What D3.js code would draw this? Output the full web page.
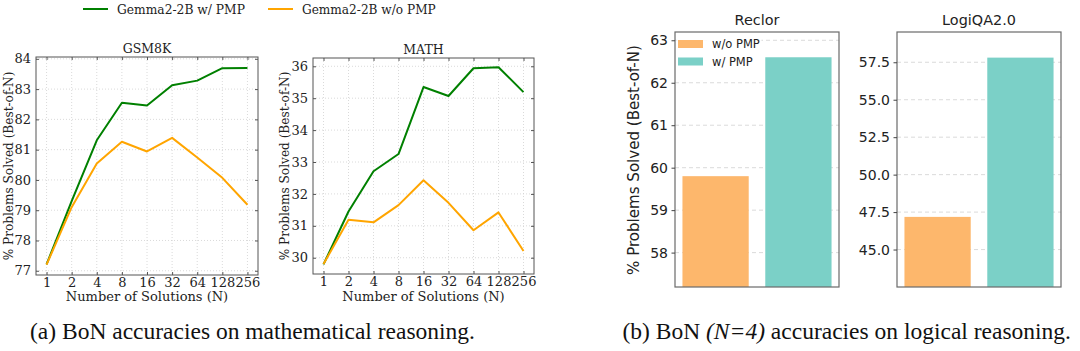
<!DOCTYPE html>
<html><head><meta charset="utf-8">
<script src="https://cdn.jsdelivr.net/npm/d3@7"></script>
<style>body{margin:0;background:#fff}svg{display:block}</style>
</head><body>
<svg id="c" width="1080" height="351"></svg>
<script>
// ---- data ----
const nLabels = ["1","2","4","8","16","32","64","128","256"];
const gsmWith    = [77.21,79.30,81.31,82.55,82.46,83.13,83.28,83.69,83.70];
const gsmWithout = [77.20,79.10,80.54,81.26,80.94,81.39,80.74,80.07,79.18];
const mathWith    = [29.79,31.45,32.71,33.25,35.35,35.07,35.94,35.97,35.19];
const mathWithout = [29.80,31.19,31.11,31.65,32.43,31.72,30.86,31.42,30.21];
const gsmTicks  = [77,78,79,80,81,82,83,84];
const mathTicks = [30,31,32,33,34,35,36];
const lineSeries = ["Gemma2-2B w/ PMP","Gemma2-2B w/o PMP"];
const barCats = ["w/o PMP","w/ PMP"];
const reclorVals = [59.80,62.60];
const logiqaVals = [47.18,57.81];
const reclorTicks = [58,59,60,61,62,63];
const logiqaTicks = [45.0,47.5,50.0,52.5,55.0,57.5];

const svg = d3.select("#c");
const SERIF = "'DejaVu Serif', serif";
const SANS = "'DejaVu Sans', sans-serif";
const lineColors = ["#008000","#FFA500"];
const barColors = ["#FDB76C","#7BD0C7"];

function fit(sel, target){
  const l = sel.node().getComputedTextLength();
  const fs = +sel.attr("font-size");
  sel.attr("font-size", fs*target/l);
  return sel;
}

function linePanel(o){
  const g = svg.append("g");
  const x = d3.scalePoint().domain(nLabels).range([o.x0,o.x1]).padding(0.42);
  const y = d3.scaleLinear().domain(o.dom).range([o.y1,o.y0]);
  g.selectAll(".gy").data(o.ticks).join("line")
    .attr("x1",o.x0).attr("x2",o.x1).attr("y1",d=>y(d)).attr("y2",d=>y(d))
    .attr("stroke","#d0d0d0").attr("stroke-width",0.8).attr("stroke-dasharray","1,2");
  g.selectAll(".gx").data(nLabels).join("line")
    .attr("x1",d=>x(d)).attr("x2",d=>x(d)).attr("y1",o.y0).attr("y2",o.y1)
    .attr("stroke","#d0d0d0").attr("stroke-width",0.8).attr("stroke-dasharray","1,2");
  const ln = d3.line().x((d,i)=>x(nLabels[i])).y(d=>y(d));
  [o.a,o.b].forEach((s,k)=>{
    g.append("path").attr("d",ln(s)).attr("fill","none")
      .attr("stroke",lineColors[k]).attr("stroke-width",2).attr("stroke-linejoin","round");
  });
  g.append("rect").attr("x",o.x0).attr("y",o.y0).attr("width",o.x1-o.x0).attr("height",o.y1-o.y0)
    .attr("fill","none").attr("stroke","#555").attr("stroke-width",1);
  const ax = g.append("g").attr("transform",`translate(0,${o.y1})`)
    .call(d3.axisBottom(x).tickSize(-3).tickPadding(0));
  const axT = g.append("g").attr("transform",`translate(0,${o.y0})`)
    .call(d3.axisTop(x).tickSize(-3).tickFormat(""));
  const ay = g.append("g").attr("transform",`translate(${o.x0},0)`)
    .call(d3.axisLeft(y).tickValues(o.ticks).tickSize(-3).tickPadding(5).tickFormat(d3.format("d")));
  const ayR = g.append("g").attr("transform",`translate(${o.x1},0)`)
    .call(d3.axisRight(y).tickValues(o.ticks).tickSize(-3).tickFormat(""));
  [ax,axT,ay,ayR].forEach(a=>{
    a.select(".domain").remove();
    a.selectAll("line").attr("stroke","#555");
    a.selectAll("text").attr("font-family",SERIF).attr("font-size",13).attr("fill","#222");
  });
  ax.selectAll("text").attr("y",12).attr("dy",null);
  g.append("text").attr("x",(o.x0+o.x1)/2).attr("y",o.y0-4).attr("text-anchor","middle")
    .attr("font-family",SERIF).attr("font-size",12.5).attr("fill","#222").text(o.title);
  g.append("text").attr("x",(o.x0+o.x1)/2).attr("y",301).attr("text-anchor","middle")
    .attr("font-family",SERIF).attr("font-size",13).attr("fill","#222").text("Number of Solutions (N)");
  fit(g.append("text").attr("transform",`translate(${o.yl},${(o.y0+o.y1)/2}) rotate(-90)`)
    .attr("text-anchor","middle").attr("font-family",SERIF).attr("font-size",13).attr("fill","#222")
    .text("% Problems Solved (Best-of-N)"), 189);
}

linePanel({x0:36,x1:258,y0:57,y1:275,dom:[76.86,84.06],ticks:gsmTicks,title:"GSM8K",a:gsmWith,b:gsmWithout,yl:12.5});
linePanel({x0:313,x1:534,y0:58,y1:274,dom:[29.49,36.26],ticks:mathTicks,title:"MATH",a:mathWith,b:mathWithout,yl:288.5});

// top legend
const legX = [83,268];
const legW = [128,134];
lineSeries.forEach((s,i)=>{
  svg.append("line").attr("x1",legX[i]).attr("x2",legX[i]+25).attr("y1",9).attr("y2",9)
    .attr("stroke",lineColors[i]).attr("stroke-width",2);
  fit(svg.append("text").attr("x",legX[i]+34).attr("y",14).attr("font-family",SERIF)
    .attr("font-size",14).attr("fill","#222").text(s), legW[i]);
});

function barPanel(o){
  const g = svg.append("g");
  const x = d3.scaleLinear().domain([-0.49,1.49]).range([o.x0,o.x1]);
  const y = d3.scaleLinear().domain(o.dom).range([o.y1,o.y0]);
  g.selectAll(".gy").data(o.ticks).join("line")
    .attr("x1",o.x0).attr("x2",o.x1).attr("y1",d=>y(d)).attr("y2",d=>y(d))
    .attr("stroke","#d6d6d6").attr("stroke-width",0.9).attr("stroke-dasharray","4,3");
  g.selectAll(".bar").data(o.vals).join("rect")
    .attr("x",(d,i)=>x(i-0.4)).attr("width",(d,i)=>x(i+0.4)-x(i-0.4))
    .attr("y",d=>y(d)).attr("height",d=>o.y1-y(d))
    .attr("fill",(d,i)=>barColors[i]);
  g.append("rect").attr("x",o.x0).attr("y",o.y0).attr("width",o.x1-o.x0).attr("height",o.y1-o.y0)
    .attr("fill","none").attr("stroke","#6a6a6a").attr("stroke-width",1.2);
  const ay = g.append("g").attr("transform",`translate(${o.x0},0)`)
    .call(d3.axisLeft(y).tickValues(o.ticks).tickSize(3.5).tickPadding(3.5).tickFormat(d3.format(o.fmt)));
  ay.select(".domain").remove();
  ay.selectAll("line").attr("stroke","#444");
  ay.selectAll("text").attr("font-family",SANS).attr("font-size",14).attr("fill","#222");
  g.append("text").attr("x",(o.x0+o.x1)/2).attr("y",o.y0-7).attr("text-anchor","middle")
    .attr("font-family",SANS).attr("font-size",14.4).attr("fill","#222").text(o.title);
}

barPanel({x0:675,x1:839,y0:32,y1:287,dom:[57.19,63.195],ticks:reclorTicks,vals:reclorVals,title:"Reclor",fmt:"d"});
barPanel({x0:897,x1:1061,y0:32,y1:287,dom:[42.50,59.52],ticks:logiqaTicks,vals:logiqaVals,title:"LogiQA2.0",fmt:".1f"});

fit(svg.append("text").attr("transform","translate(639,160) rotate(-90)").attr("text-anchor","middle")
  .attr("font-family",SANS).attr("font-size",14).attr("fill","#222").text("% Problems Solved (Best-of-N)"), 230);

// bar legend
svg.append("rect").attr("x",676.5).attr("y",34).attr("width",85).attr("height",38).attr("fill","#fff").attr("fill-opacity",0.9);
barCats.forEach((c,i)=>{
  svg.append("rect").attr("x",678).attr("y",40+i*17.5).attr("width",25).attr("height",8).attr("fill",barColors[i]);
  svg.append("text").attr("x",712).attr("y",48+i*17.5).attr("font-family",SANS).attr("font-size",11.5)
    .attr("fill","#222").text(c);
});

// captions
const cap = svg.append("g").attr("font-family","'Liberation Serif', 'Times New Roman', serif").attr("fill","#111").attr("font-size",23.5);
cap.append("text").attr("x",30).attr("y",339).attr("text-anchor","start")
  .text("(a) BoN accuracies on mathematical reasoning.");
const cb = cap.append("text").attr("x",1071).attr("y",339).attr("text-anchor","end");
cb.append("tspan").text("(b) BoN ");
cb.append("tspan").attr("font-style","italic").text("(N=4)");
cb.append("tspan").text(" accuracies on logical reasoning.");
</script>
</body></html>
